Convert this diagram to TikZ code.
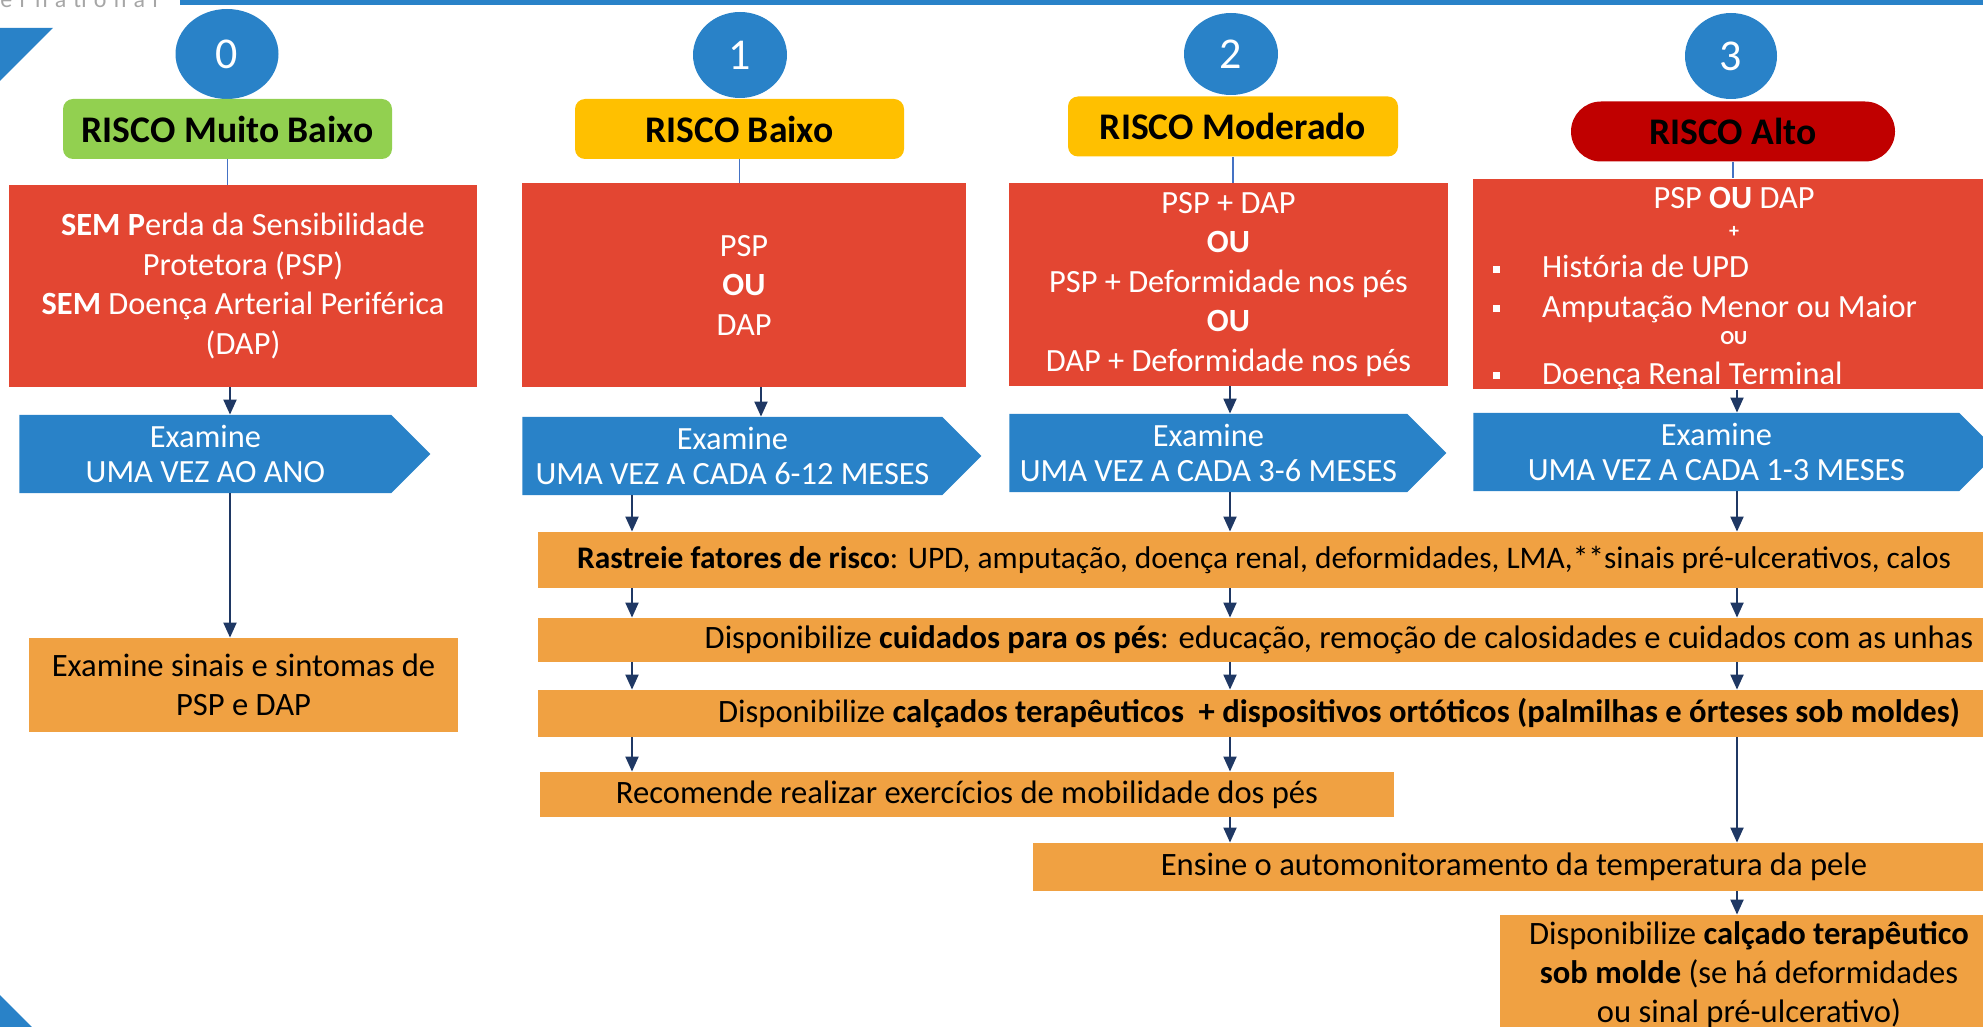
\documentclass[tikz,border=0pt]{standalone}
\usepackage{fontspec}
\setmainfont{Carlito}
\usetikzlibrary{arrows.meta,shapes.geometric,shapes.symbols}
\definecolor{riskblue}{HTML}{2982C8}
\definecolor{boxred}{HTML}{E34632}
\definecolor{careorange}{HTML}{F0A142}
\definecolor{hdrgreen}{HTML}{92D050}
\definecolor{hdryellow}{HTML}{FFC000}
\definecolor{hdrdarkred}{HTML}{C00000}
\definecolor{arrownavy}{HTML}{1F3864}
\definecolor{stemblue}{HTML}{4472C4}
\definecolor{logogray}{HTML}{A6A6A6}
\begin{document}
\begin{tikzpicture}[x=0.5pt,y=-0.5pt,
        numball/.style={ellipse,fill=riskblue,text=white,inner sep=0pt,minimum width=47pt,minimum height=43pt,font=\fontsize{22}{22}\selectfont},
        riskhdr/.style={rounded corners=5pt,inner sep=0pt,minimum height=30pt,font=\bfseries\fontsize{18.8}{18.8}\selectfont},
        critbox/.style={fill=boxred,text=white,align=flush center,inner sep=0pt,font=\fontsize{16.2}{19.75}\selectfont},
        exambox/.style={signal,signal to=east,signal pointer angle=90,fill=riskblue,text=white,align=flush center,inner sep=0pt,minimum height=39pt,anchor=west,font=\fontsize{16.2}{17.5}\selectfont},
        carebox/.style={fill=careorange,align=flush center,inner sep=0pt,font=\fontsize{16.3}{19.5}\selectfont},
        stem/.style={draw=stemblue,line width=0.6pt},
        flow/.style={draw=arrownavy,line width=1pt,-{Triangle[length=7.5pt,width=6.5pt]}}]
        \useasboundingbox (0,0) rectangle (1983,1027);
        \clip (0,0) rectangle (1983,1027);
        \fill[riskblue] (180,0) rectangle (1983,5);
        \fill[riskblue] (0,28) -- (53,28) -- (0,81) -- cycle;
        \fill[riskblue] (0,995) -- (32,1027) -- (0,1027) -- cycle;
        \node[anchor=base west,inner sep=0pt,text=logogray,font=\fontsize{12}{12}\selectfont\addfontfeatures{LetterSpace=30}] (brand) at (0,8) {ernational};

        \node[numball,minimum width=51.5pt,minimum height=45pt] (n0) at (227,54) {0};
        \node[numball] (n1) at (740,55) {1};
        \node[numball,minimum height=41pt] (n2) at (1231,54) {2};
        \node[numball,minimum width=46pt] (n3) at (1731,56) {3};

        \node[riskhdr,fill=hdrgreen,minimum width=164.5pt] (h0) at (227.5,129) {RISCO Muito Baixo};
        \node[riskhdr,fill=hdryellow,minimum width=164.5pt] (h1) at (739.5,129) {RISCO Baixo};
        \node[riskhdr,fill=hdryellow,minimum width=165pt] (h2) at (1233,126.5) {RISCO Moderado};
        \node[riskhdr,fill=hdrdarkred,rounded corners=15pt,minimum width=162pt] (h3) at (1733,131.5) {RISCO Alto};

        \node[critbox,minimum width=234pt,minimum height=101pt] (r0) at (243,286) {\textbf{SEM P}erda da Sensibilidade\\Protetora (PSP)\\\textbf{SEM} Doença Arterial Periférica\\(DAP)};
        \node[critbox,minimum width=222pt,minimum height=102pt] (r1) at (744,285) {PSP\\\textbf{OU}\\DAP};
        \node[critbox,minimum width=219.5pt,minimum height=101.5pt] (r2) at (1228.5,284.5) {PSP + DAP\\\textbf{OU}\\PSP + Deformidade nos pés\\\textbf{OU}\\DAP + Deformidade nos pés};
        \node[critbox,align=flush left,text width=250pt,minimum width=261pt,minimum height=101pt] (r3) at (1734,284) {\makebox[\linewidth]{\rule{0pt}{15pt}PSP \textbf{OU} DAP}\\[-5.5pt]
                \makebox[\linewidth]{\fontsize{10}{10}\selectfont\textbf{+}}\\[0.5pt]
                \hspace*{4.5pt}\rule[2.5pt]{3.5pt}{3.5pt}\hspace{21pt}História de UPD\\
                \hspace*{4.5pt}\rule[2.5pt]{3.5pt}{3.5pt}\hspace{21pt}Amputação Menor ou Maior\\[-6pt]
                \makebox[\linewidth]{\fontsize{10}{10}\selectfont\textbf{OU}}\\
                \hspace*{4.5pt}\rule[2.5pt]{3.5pt}{3.5pt}\hspace{21pt}Doença Renal Terminal};

        \node[exambox,minimum width=205.5pt] (e0) at (19,454) {Examine\\UMA VEZ AO ANO};
        \node[exambox,minimum width=229.5pt] (e1) at (522,456) {Examine\\UMA VEZ A CADA 6-12 MESES};
        \node[exambox,minimum width=218.5pt] (e2) at (1009,453) {Examine\\UMA VEZ A CADA 3-6 MESES};
        \node[exambox,minimum width=262.5pt] (e3) at (1473,452) {Examine\\UMA VEZ A CADA 1-3 MESES};

        \node[carebox,minimum width=214.5pt,minimum height=47pt] (o0) at (243.5,685) {Examine sinais e sintomas de\\PSP e DAP};
        \node[carebox,minimum width=726pt,minimum height=28pt,font=\fontsize{15.7}{19.5}\selectfont] (s1) at (1264,560) {\textbf{Rastreie fatores de risco}: UPD, amputação, doença renal, deformidades, LMA,**sinais pré-ulcerativos, calos};
        \node[carebox,minimum width=801pt,minimum height=22pt] (s2) at (1339,640) {Disponibilize \textbf{cuidados para os pés}: educação, remoção de calosidades e cuidados com as unhas};
        \node[carebox,minimum width=801pt,minimum height=23.5pt] (s3) at (1339,713.5) {Disponibilize \textbf{calçados terapêuticos\ \ + dispositivos ortóticos (palmilhas e órteses sob moldes)}};
        \node[carebox,minimum width=427pt,minimum height=22.5pt] (s4) at (967,794.5) {Recomende realizar exercícios de mobilidade dos pés};
        \node[carebox,minimum width=481pt,minimum height=24pt] (s5) at (1514,867) {Ensine o automonitoramento da temperatura da pele};
        \node[carebox,minimum width=249pt,minimum height=60pt] (s6) at (1749,975) {Disponibilize \textbf{calçado terapêutico}\\\textbf{sob molde} (se há deformidades\\ou sinal pré-ulcerativo)};

        \coordinate (l0) at (230,0);
        \coordinate (l1) at (632,0);
        \coordinate (l1b) at (761,0);
        \coordinate (l2) at (1230,0);
        \coordinate (l3) at (1737,0);

        \draw[stem] (h0.south) -- (h0.south |- r0.north);
        \draw[stem] (h1.south) -- (h1.south |- r1.north);
        \draw[stem] (h2.south) -- (h2.south |- r2.north);
        \draw[stem] (h3.south) -- (h3.south |- r3.north);

        \draw[flow] (r0.south -| l0) -- (e0.north -| l0);
        \draw[flow] (e0.south -| l0) -- (o0.north -| l0);

        \draw[flow] (r1.south -| l1b) -- (e1.north -| l1b);
        \draw[flow] (e1.south -| l1) -- (s1.north -| l1);
        \draw[flow] (s1.south -| l1) -- (s2.north -| l1);
        \draw[flow] (s2.south -| l1) -- (s3.north -| l1);
        \draw[flow] (s3.south -| l1) -- (s4.north -| l1);

        \draw[flow] (r2.south -| l2) -- (e2.north -| l2);
        \draw[flow] (e2.south -| l2) -- (s1.north -| l2);
        \draw[flow] (s1.south -| l2) -- (s2.north -| l2);
        \draw[flow] (s2.south -| l2) -- (s3.north -| l2);
        \draw[flow] (s3.south -| l2) -- (s4.north -| l2);
        \draw[flow] (s4.south -| l2) -- (s5.north -| l2);

        \draw[flow] (r3.south -| l3) -- (e3.north -| l3);
        \draw[flow] (e3.south -| l3) -- (s1.north -| l3);
        \draw[flow] (s1.south -| l3) -- (s2.north -| l3);
        \draw[flow] (s2.south -| l3) -- (s3.north -| l3);
        \draw[flow] (s3.south -| l3) -- (s5.north -| l3);
        \draw[flow] (s5.south -| l3) -- (s6.north -| l3);
    \end{tikzpicture}
\end{document}
